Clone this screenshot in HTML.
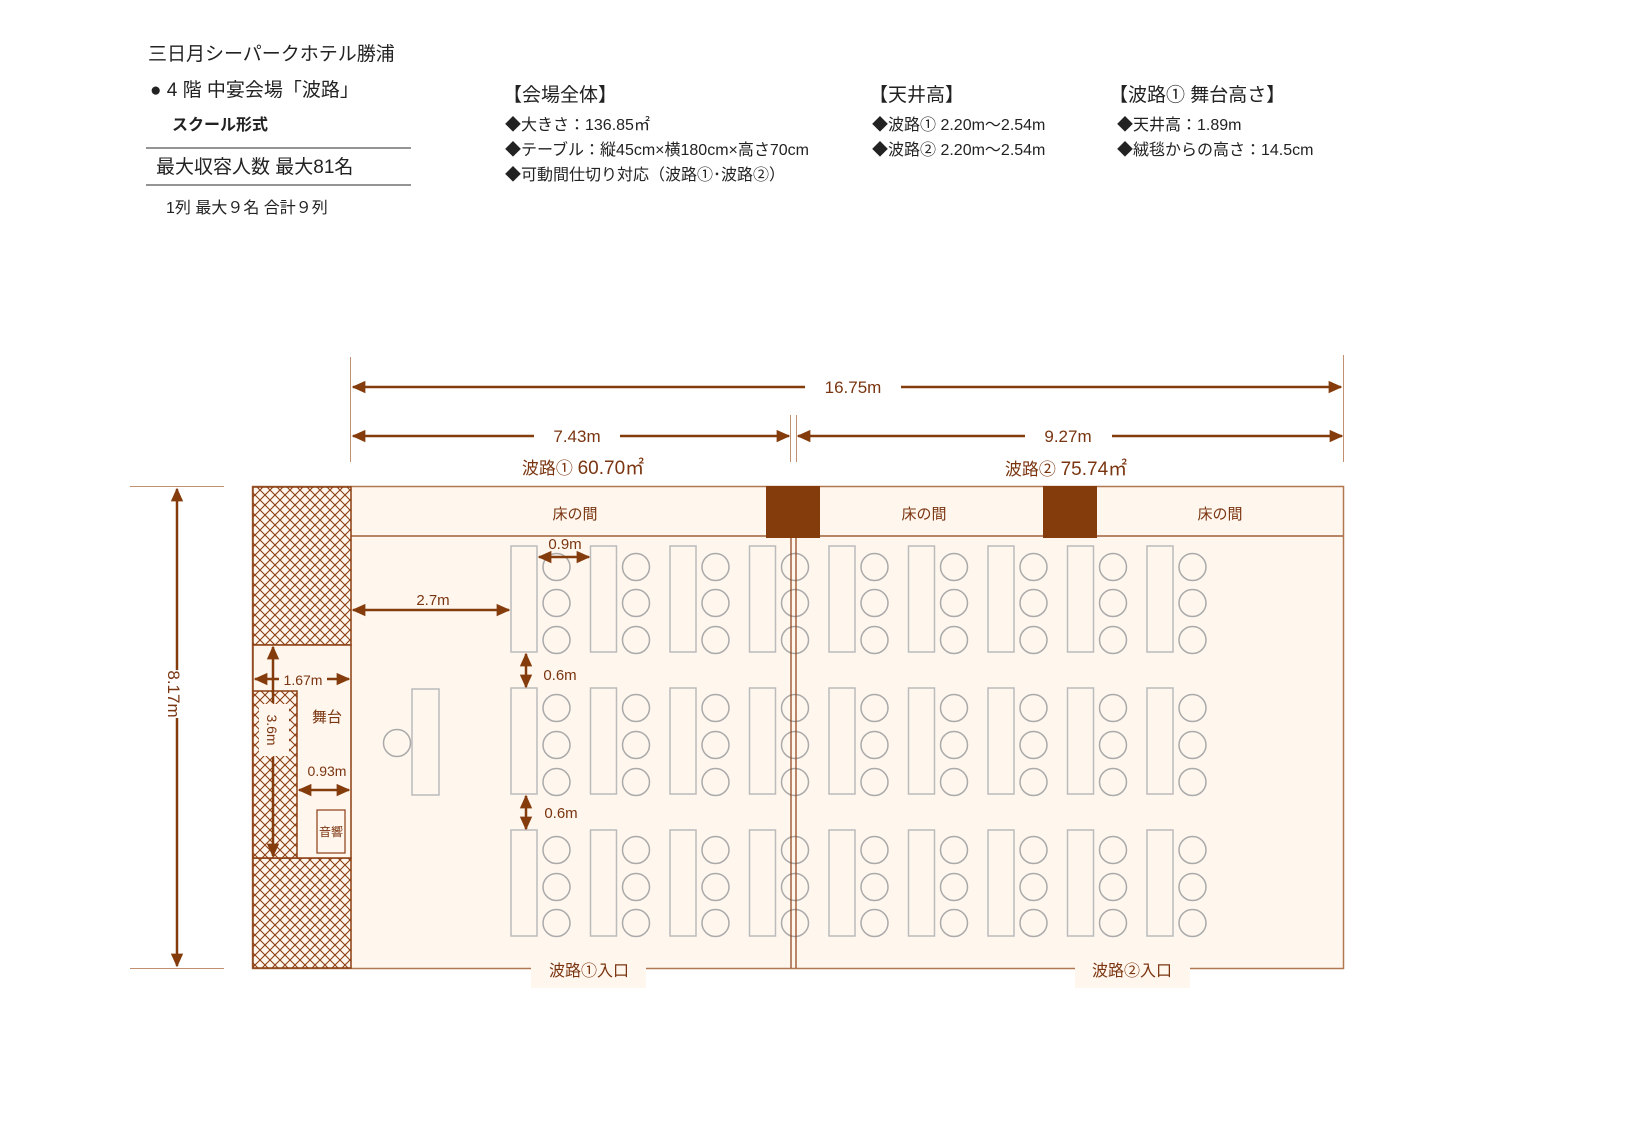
<!DOCTYPE html>
<html><head><meta charset="utf-8"><style>
html,body{margin:0;padding:0;background:#fff;}
svg{display:block;}
text{font-family:"Liberation Sans","Noto Sans CJK JP",sans-serif;}
</style></head><body>
<svg width="1625" height="1125" viewBox="0 0 1625 1125" xmlns="http://www.w3.org/2000/svg" xmlns:xlink="http://www.w3.org/1999/xlink">
<defs>
<pattern id="h" width="10" height="10" patternUnits="userSpaceOnUse">
<rect width="10" height="10" fill="#fff6ee"/>
<path d="M0,0 L10,10 M10,0 L0,10" stroke="#8b3e12" stroke-width="1.1"/>
</pattern>
<marker id="a" viewBox="0 0 10 10" refX="9" refY="5" markerWidth="5.5" markerHeight="5.5" orient="auto-start-reverse" markerUnits="strokeWidth">
<path d="M0,0.5 L10,5 L0,9.5 z" fill="#843c0c"/></marker>
<g id="col" fill="#fff6ee" stroke-width="1.5">
<rect x="511" y="546" width="26" height="106" stroke="#bbb"/>
<rect x="511" y="688" width="26" height="106" stroke="#bbb"/>
<rect x="511" y="830" width="26" height="106" stroke="#bbb"/>
<g fill="none" stroke="#aaa">
<circle cx="556.5" cy="567" r="13.5"/><circle cx="556.5" cy="603" r="13.5"/><circle cx="556.5" cy="640" r="13.5"/>
<circle cx="556.5" cy="708" r="13.5"/><circle cx="556.5" cy="745" r="13.5"/><circle cx="556.5" cy="782" r="13.5"/>
<circle cx="556.5" cy="850" r="13.5"/><circle cx="556.5" cy="887" r="13.5"/><circle cx="556.5" cy="923" r="13.5"/>
</g>
</g>
</defs>

<!-- header -->
<g fill="#222">
<text x="148" y="60" font-size="19">三日月シーパークホテル勝浦</text>
<text x="150" y="96" font-size="19">● 4 階 中宴会場「波路」</text>
<text x="172" y="130" font-size="16" font-weight="bold">スクール形式</text>
<text x="156" y="173" font-size="19">最大収容人数  最大81名</text>
<text x="166" y="213" font-size="16">1列  最大９名  合計９列</text>
<text x="503" y="101" font-size="19">【会場全体】</text>
<text x="505" y="130" font-size="16">◆大きさ：136.85㎡</text>
<text x="505" y="155" font-size="16">◆テーブル：縦45cm×横180cm×高さ70cm</text>
<text x="505" y="180" font-size="16">◆可動間仕切り対応（波路①･波路②）</text>
<text x="869" y="101" font-size="19">【天井高】</text>
<text x="872" y="130" font-size="16">◆波路①  2.20m～2.54m</text>
<text x="872" y="155" font-size="16">◆波路②  2.20m～2.54m</text>
<text x="1109" y="101" font-size="19">【波路①  舞台高さ】</text>
<text x="1117" y="130" font-size="16">◆天井高：1.89m</text>
<text x="1117" y="155" font-size="16">◆絨毯からの高さ：14.5cm</text>
</g>
<line x1="146" y1="148" x2="411" y2="148" stroke="#555" stroke-width="1.3"/>
<line x1="146" y1="185" x2="411" y2="185" stroke="#555" stroke-width="1.3"/>

<!-- room -->
<rect x="252.5" y="486.5" width="1091" height="482" fill="#fff6ee" stroke="#b07850" stroke-width="1.5"/>
<line x1="351" y1="536" x2="1343" y2="536" stroke="#a0603a" stroke-width="1.5"/>
<rect x="253" y="487" width="98" height="158" fill="url(#h)" stroke="#8b3e12" stroke-width="1.5"/>
<rect x="253" y="858" width="98" height="110" fill="url(#h)" stroke="#8b3e12" stroke-width="1.5"/>
<rect x="253" y="645" width="98" height="213" fill="#fff6ee" stroke="#8b3e12" stroke-width="1.5"/>
<rect x="253" y="691" width="44" height="167" fill="url(#h)" stroke="#8b3e12" stroke-width="1.5"/>
<rect x="766" y="486" width="54" height="52" fill="#843c0c"/>
<rect x="1043" y="486" width="54" height="52" fill="#843c0c"/>
<g fill="#7a3510" font-size="15" text-anchor="middle">
<text x="575" y="519">床の間</text><text x="924" y="519">床の間</text><text x="1220" y="519">床の間</text>
</g>

<!-- tables & chairs -->
<rect x="412" y="689" width="27" height="106" fill="#fff6ee" stroke="#bbb" stroke-width="1.5"/>
<circle cx="397" cy="743" r="13.5" fill="none" stroke="#aaa" stroke-width="1.5"/>
<use xlink:href="#col" href="#col" x="0"/>
<use xlink:href="#col" href="#col" x="79.5"/>
<use xlink:href="#col" href="#col" x="159"/>
<use xlink:href="#col" href="#col" x="238.5"/>
<use xlink:href="#col" href="#col" x="318"/>
<use xlink:href="#col" href="#col" x="397.5"/>
<use xlink:href="#col" href="#col" x="477"/>
<use xlink:href="#col" href="#col" x="556.5"/>
<use xlink:href="#col" href="#col" x="636"/>
<line x1="791" y1="538" x2="791" y2="968" stroke="#8b3e12" stroke-width="1.2"/>
<line x1="796" y1="538" x2="796" y2="968" stroke="#8b3e12" stroke-width="1.2"/>

<!-- entrances -->
<rect x="531" y="962" width="115" height="26" fill="#fff6ee"/>
<rect x="1075" y="962" width="115" height="26" fill="#fff6ee"/>
<g fill="#7a3510" font-size="16" text-anchor="middle">
<text x="589" y="976">波路①入口</text><text x="1132" y="976">波路②入口</text>
</g>

<!-- dimensions -->
<g stroke="#c09070" stroke-width="1">
<line x1="350.5" y1="357" x2="350.5" y2="462"/>
<line x1="1343.5" y1="355" x2="1343.5" y2="462"/>
<line x1="790.5" y1="415" x2="790.5" y2="462"/>
<line x1="796.5" y1="415" x2="796.5" y2="462"/>
<line x1="130" y1="486.5" x2="224" y2="486.5"/>
<line x1="130" y1="968.5" x2="224" y2="968.5"/>
</g>
<g stroke="#843c0c" stroke-width="2.5" fill="none">
<line x1="353" y1="387" x2="805" y2="387" marker-start="url(#a)"/>
<line x1="901" y1="387" x2="1341" y2="387" marker-end="url(#a)"/>
<line x1="353" y1="436" x2="534" y2="436" marker-start="url(#a)"/>
<line x1="620" y1="436" x2="789" y2="436" marker-end="url(#a)"/>
<line x1="798" y1="436" x2="1025" y2="436" marker-start="url(#a)"/>
<line x1="1112" y1="436" x2="1342" y2="436" marker-end="url(#a)"/>
<line x1="177" y1="489" x2="177" y2="670" marker-start="url(#a)"/>
<line x1="177" y1="718" x2="177" y2="966" marker-end="url(#a)"/>
<line x1="353" y1="610" x2="509" y2="610" marker-start="url(#a)" marker-end="url(#a)"/>
<line x1="539" y1="557" x2="589" y2="557" marker-start="url(#a)" marker-end="url(#a)"/>
<line x1="526" y1="654" x2="526" y2="687" marker-start="url(#a)" marker-end="url(#a)"/>
<line x1="526" y1="796" x2="526" y2="829" marker-start="url(#a)" marker-end="url(#a)"/>
<line x1="255" y1="679" x2="279" y2="679" marker-start="url(#a)"/>
<line x1="327" y1="679" x2="349" y2="679" marker-end="url(#a)"/>
<line x1="273" y1="647" x2="273" y2="703" marker-start="url(#a)"/>
<line x1="273" y1="757" x2="273" y2="856" marker-end="url(#a)"/>
<line x1="299" y1="790" x2="349" y2="790" marker-start="url(#a)" marker-end="url(#a)"/>
</g>
<rect x="259" y="704" width="30" height="52" fill="#fff6ee"/>
<rect x="317" y="810" width="28" height="43" fill="#fff6ee" stroke="#8b3e12" stroke-width="1.2"/>
<g fill="#7a3510" text-anchor="middle">
<text x="853" y="393" font-size="17">16.75m</text>
<text x="577" y="442" font-size="17">7.43m</text>
<text x="1068" y="442" font-size="17">9.27m</text>
<text x="583" y="474" font-size="17">波路①  <tspan font-size="19">60.70㎡</tspan></text>
<text x="1066" y="475" font-size="17">波路②  <tspan font-size="19">75.74㎡</tspan></text>
<text x="433" y="605" font-size="15">2.7m</text>
<text x="565" y="549" font-size="15">0.9m</text>
<text x="560" y="680" font-size="15">0.6m</text>
<text x="561" y="818" font-size="15">0.6m</text>
<text x="303" y="685" font-size="14">1.67m</text>
<text x="327" y="722" font-size="15">舞台</text>
<text x="327" y="776" font-size="14">0.93m</text>
<text x="331" y="836" font-size="12">音響</text>
<text transform="translate(168,694) rotate(90)" font-size="17">8.17m</text>
<text transform="translate(267,730) rotate(90)" font-size="14">3.6m</text>
</g>
</svg>
</body></html>
